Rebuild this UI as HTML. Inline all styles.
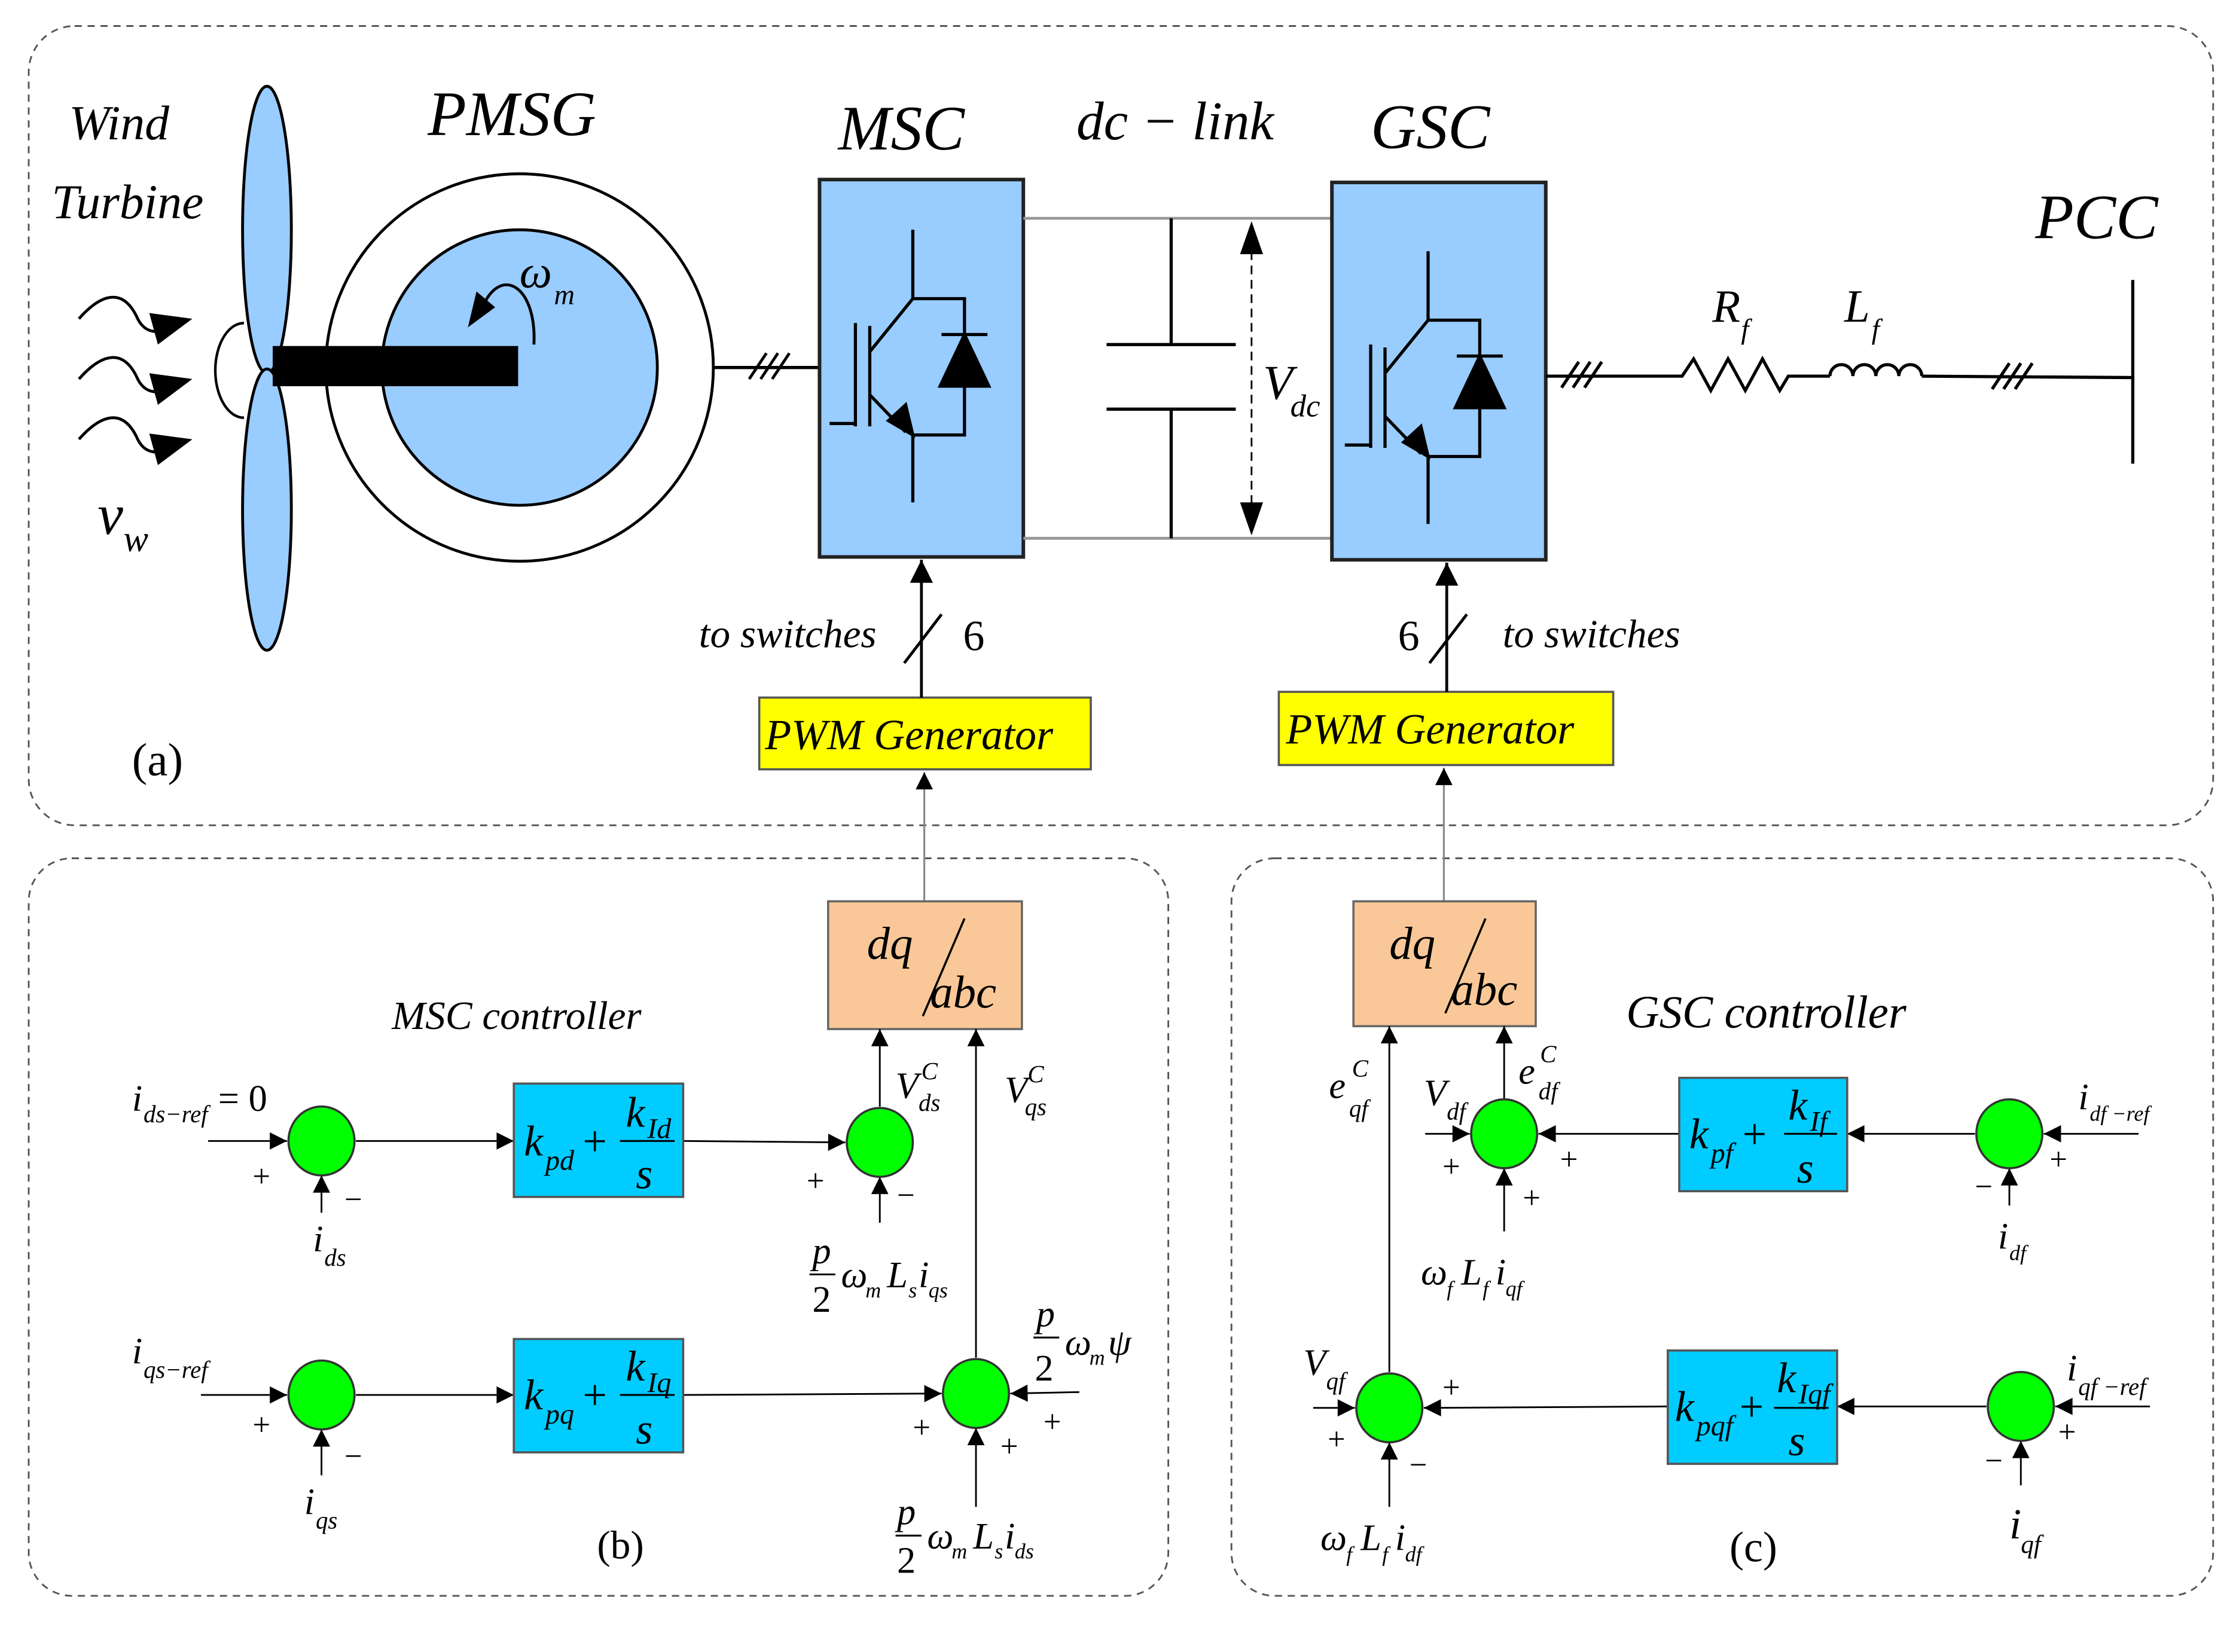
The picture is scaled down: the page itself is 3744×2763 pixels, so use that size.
<!DOCTYPE html>
<html><head><meta charset="utf-8"><style>
html,body{margin:0;padding:0;background:#fff}
svg{display:block}
text{font-family:"Liberation Serif",serif;font-style:italic;fill:#000}
.n{font-style:normal}
</style></head><body>
<svg width="3744" height="2763" viewBox="0 0 1560 1151" xmlns="http://www.w3.org/2000/svg">
<defs>
<marker id="ah" viewBox="0 0 10 10" refX="10" refY="5" markerWidth="14" markerHeight="12" markerUnits="userSpaceOnUse" orient="auto"><path d="M0,0 L10,5 L0,10 z" fill="#000"/></marker>
<marker id="ahb" viewBox="0 0 10 10" refX="10" refY="5" markerWidth="20" markerHeight="16" markerUnits="userSpaceOnUse" orient="auto"><path d="M0,0 L10,5 L0,10 z" fill="#000"/></marker>
<g id="igbt" stroke="#000" stroke-width="2.2" fill="none">
<line x1="65" y1="35" x2="65" y2="83"/>
<polyline points="65,83 101,83 101,178 65,178"/>
<line x1="65" y1="178" x2="65" y2="225"/>
<line x1="35" y1="102" x2="35" y2="172"/>
<line x1="25" y1="100" x2="25" y2="172"/>
<line x1="7" y1="170" x2="25" y2="170"/>
<line x1="35" y1="120" x2="65" y2="83"/>
<line x1="35" y1="150" x2="60" y2="176"/>
<path d="M65,178 L48,168 L60,157 z" fill="#000"/>
<line x1="85" y1="108" x2="117" y2="108"/>
<path d="M101,108 L84,144 L118,144 z" fill="#000"/>
</g>
</defs>
<g fill="none" stroke="#555" stroke-width="1.2" stroke-dasharray="5,4">
<rect x="20" y="18" width="1522" height="557" rx="32"/>
<rect x="20" y="598" width="794" height="514" rx="30"/>
<rect x="858" y="598" width="684" height="514" rx="30"/>
</g>
<!-- (a) -->
<text x="48" y="97" font-size="34">Wind</text>
<text x="36" y="152" font-size="34">Turbine</text>
<text x="68" y="372" font-size="40">v</text><text x="86" y="384" font-size="26">w</text>
<text x="92" y="540" font-size="32" class="n">(a)</text>
<g stroke="#000" stroke-width="2" fill="none">
<path d="M55,222 C70,205 85,200 95,220 C100,232 108,232 118,230"/>
<path d="M55,264 C70,247 85,242 95,262 C100,274 108,274 118,272"/>
<path d="M55,306 C70,289 85,284 95,304 C100,316 108,316 118,314"/>
</g>
<path d="M104,218 L134,222 L110,240 z M104,260 L134,264 L110,282 z M104,302 L134,306 L110,324 z" fill="#000"/>
<path d="M170,225 A20,33 0 0 0 170,291" fill="none" stroke="#000" stroke-width="1.8"/>
<ellipse cx="186" cy="160" rx="17" ry="100" fill="#99ccff" stroke="#000" stroke-width="2"/>
<ellipse cx="186" cy="355" rx="17" ry="98" fill="#99ccff" stroke="#000" stroke-width="2"/>
<circle cx="362" cy="256" r="135" fill="#fff" stroke="#000" stroke-width="2"/>
<circle cx="362" cy="256" r="96" fill="#99ccff" stroke="#000" stroke-width="2"/>
<rect x="190" y="241" width="171" height="28" fill="#000"/>
<path d="M372,240 C374,200 350,185 337,212" fill="none" stroke="#000" stroke-width="2"/>
<path d="M326,228 L332,203 L345,214 z" fill="#000"/>
<text x="362" y="200" font-size="32">ω</text><text x="386" y="212" font-size="20">m</text>
<text x="298" y="94" font-size="44">PMSG</text>
<line x1="497" y1="256" x2="571" y2="256" stroke="#000" stroke-width="2.2"/>
<g stroke="#000" stroke-width="2"><line x1="522" y1="264" x2="534" y2="246"/><line x1="530" y1="264" x2="542" y2="246"/><line x1="538" y1="264" x2="550" y2="246"/></g>
<text x="584" y="104" font-size="44">MSC</text>
<rect x="571" y="125" width="142" height="263" fill="#99ccff" stroke="#222" stroke-width="2.5"/>
<use href="#igbt" x="571" y="125"/>
<text x="750" y="97" font-size="38">dc − link</text>
<g stroke="#999" stroke-width="2"><line x1="713" y1="152" x2="928" y2="152"/><line x1="713" y1="375" x2="928" y2="375"/></g>
<g stroke="#000" stroke-width="2.2"><line x1="816" y1="152" x2="816" y2="240"/><line x1="771" y1="240" x2="861" y2="240"/><line x1="771" y1="285" x2="861" y2="285"/><line x1="816" y1="285" x2="816" y2="375"/></g>
<line x1="872" y1="175" x2="872" y2="352" stroke="#000" stroke-width="1.2" stroke-dasharray="6,4"/>
<path d="M872,154 L864,177 L880,177 z M872,373 L864,350 L880,350 z" fill="#000"/>
<text x="880" y="278" font-size="34">V</text><text x="899" y="290" font-size="22">dc</text>
<text x="955" y="103" font-size="44">GSC</text>
<rect x="928" y="127" width="149" height="263" fill="#99ccff" stroke="#222" stroke-width="2.5"/>
<use href="#igbt" x="930" y="140"/>
<g stroke="#000" stroke-width="2.2" fill="none">
<line x1="1077" y1="262" x2="1165" y2="262"/>
<polyline points="1165,262 1172,262 1180,250 1192,272 1204,250 1216,272 1228,250 1240,272 1246,262 1275,262"/>
<path d="M1275,262 a8,8 0 0 1 16,0 a8,8 0 0 1 16,0 a8,8 0 0 1 16,0 a8,8 0 0 1 16,0"/>
<line x1="1339" y1="262" x2="1485" y2="263"/>
<line x1="1486" y1="195" x2="1486" y2="323"/>
<line x1="1088" y1="270" x2="1100" y2="252"/><line x1="1096" y1="270" x2="1108" y2="252"/><line x1="1104" y1="270" x2="1116" y2="252"/>
<line x1="1388" y1="271" x2="1400" y2="253"/><line x1="1396" y1="271" x2="1408" y2="253"/><line x1="1404" y1="271" x2="1416" y2="253"/>
</g>
<text x="1193" y="224" font-size="32">R</text><text x="1213" y="236" font-size="20">f</text>
<text x="1285" y="224" font-size="32">L</text><text x="1304" y="236" font-size="20">f</text>
<text x="1418" y="166" font-size="44">PCC</text>
<!-- PWM -->
<rect x="529" y="486" width="231" height="50" fill="#ffff00" stroke="#555" stroke-width="1.5"/>
<text x="533" y="522" font-size="30">PWM  Generator</text>
<line x1="642" y1="486" x2="642" y2="390" stroke="#000" stroke-width="2" marker-end="url(#ahb)"/>
<line x1="630" y1="462" x2="656" y2="428" stroke="#000" stroke-width="2"/>
<text x="487" y="451" font-size="28">to  switches</text>
<text x="671" y="453" font-size="30" class="n">6</text>
<rect x="891" y="482" width="233" height="51" fill="#ffff00" stroke="#555" stroke-width="1.5"/>
<text x="896" y="518" font-size="30">PWM  Generator</text>
<line x1="1008" y1="482" x2="1008" y2="392" stroke="#000" stroke-width="2" marker-end="url(#ahb)"/>
<line x1="996" y1="462" x2="1022" y2="428" stroke="#000" stroke-width="2"/>
<text x="974" y="453" font-size="30" class="n">6</text>
<text x="1047" y="451" font-size="28">to  switches</text>
<!-- (b) -->
<line x1="644" y1="628" x2="644" y2="538" stroke="#888" stroke-width="1.3" marker-end="url(#ah)"/>
<line x1="1006" y1="628" x2="1006" y2="535" stroke="#888" stroke-width="1.3" marker-end="url(#ah)"/>
<rect x="577" y="628" width="135" height="89" fill="#fac898" stroke="#666" stroke-width="1.5"/>
<text x="604" y="668" font-size="32">dq</text><line x1="672" y1="640" x2="643" y2="708" stroke="#000" stroke-width="1.5"/><text x="648" y="702" font-size="32">abc</text>
<rect x="943" y="628" width="127" height="87" fill="#fac898" stroke="#666" stroke-width="1.5"/>
<text x="968" y="668" font-size="32">dq</text><line x1="1035" y1="640" x2="1007" y2="706" stroke="#000" stroke-width="1.5"/><text x="1011" y="700" font-size="32">abc</text>
<text x="273" y="717" font-size="28">MSC  controller</text>
<text x="1133" y="716" font-size="32">GSC  controller</text>
<g stroke="#000" stroke-width="1.2" fill="none">
<line x1="145" y1="795" x2="200" y2="795" marker-end="url(#ah)"/>
<line x1="224" y1="845" x2="224" y2="819" marker-end="url(#ah)"/>
<line x1="248" y1="795" x2="358" y2="795" marker-end="url(#ah)"/>
<line x1="476" y1="795" x2="589" y2="796" marker-end="url(#ah)"/>
<line x1="613" y1="852" x2="613" y2="820" marker-end="url(#ah)"/>
<line x1="613" y1="771" x2="613" y2="717" marker-end="url(#ah)"/>
<line x1="140" y1="972" x2="200" y2="972" marker-end="url(#ah)"/>
<line x1="224" y1="1028" x2="224" y2="996" marker-end="url(#ah)"/>
<line x1="248" y1="972" x2="358" y2="972" marker-end="url(#ah)"/>
<line x1="476" y1="972" x2="656" y2="971" marker-end="url(#ah)"/>
<line x1="752" y1="970" x2="704" y2="971" marker-end="url(#ah)"/>
<line x1="680" y1="1050" x2="680" y2="995" marker-end="url(#ah)"/>
<line x1="680" y1="946" x2="680" y2="717" marker-end="url(#ah)"/>
<!-- GSC -->
<line x1="1490" y1="790" x2="1424" y2="790" marker-end="url(#ah)"/>
<line x1="1400" y1="840" x2="1400" y2="814" marker-end="url(#ah)"/>
<line x1="1376" y1="790" x2="1287" y2="790" marker-end="url(#ah)"/>
<line x1="1170" y1="790" x2="1072" y2="790" marker-end="url(#ah)"/>
<line x1="993" y1="790" x2="1024" y2="790" marker-end="url(#ah)"/>
<line x1="1048" y1="858" x2="1048" y2="814" marker-end="url(#ah)"/>
<line x1="1048" y1="766" x2="1048" y2="715" marker-end="url(#ah)"/>
<line x1="1498" y1="980" x2="1432" y2="980" marker-end="url(#ah)"/>
<line x1="1408" y1="1035" x2="1408" y2="1004" marker-end="url(#ah)"/>
<line x1="1384" y1="980" x2="1280" y2="980" marker-end="url(#ah)"/>
<line x1="1162" y1="980" x2="992" y2="981" marker-end="url(#ah)"/>
<line x1="915" y1="981" x2="944" y2="981" marker-end="url(#ah)"/>
<line x1="968" y1="1050" x2="968" y2="1005" marker-end="url(#ah)"/>
<line x1="968" y1="956" x2="968" y2="715" marker-end="url(#ah)"/>
</g>
<g fill="#00ff00" stroke="#333" stroke-width="1.5">
<ellipse cx="224" cy="795" rx="23" ry="24"/><ellipse cx="613" cy="796" rx="23" ry="24"/>
<ellipse cx="224" cy="972" rx="23" ry="24"/><ellipse cx="680" cy="971" rx="23" ry="24"/>
<ellipse cx="1048" cy="790" rx="23" ry="24"/><ellipse cx="1400" cy="790" rx="23" ry="24"/>
<ellipse cx="968" cy="981" rx="23" ry="24"/><ellipse cx="1408" cy="980" rx="23" ry="24"/>
</g>
<g fill="#00ccff" stroke="#555" stroke-width="1.5">
<rect x="358" y="755" width="118" height="79"/><rect x="358" y="933" width="118" height="79"/>
<rect x="1170" y="751" width="117" height="79"/><rect x="1162" y="941" width="118" height="79"/>
</g>
<g stroke="#000" stroke-width="1.3">
<line x1="432" y1="795" x2="470" y2="795"/><line x1="432" y1="972" x2="470" y2="972"/>
<line x1="1243" y1="790" x2="1280" y2="790"/><line x1="1236" y1="981" x2="1274" y2="981"/>
</g>
<g font-size="30">
<text x="365" y="805">k</text><text x="380" y="815" font-size="20">pd</text><text x="406" y="805" class="n">+</text><text x="436" y="785">k</text><text x="451" y="793" font-size="20">Id</text><text x="443" y="828">s</text>
<text x="365" y="982">k</text><text x="380" y="992" font-size="20">pq</text><text x="406" y="982" class="n">+</text><text x="436" y="962">k</text><text x="451" y="970" font-size="20">Iq</text><text x="443" y="1006">s</text>
<text x="1177" y="800">k</text><text x="1192" y="810" font-size="20">pf</text><text x="1214" y="800" class="n">+</text><text x="1246" y="780">k</text><text x="1261" y="788" font-size="20">If</text><text x="1252" y="824">s</text>
<text x="1167" y="990">k</text><text x="1182" y="1000" font-size="20">pqf</text><text x="1212" y="990" class="n">+</text><text x="1238" y="970">k</text><text x="1253" y="978" font-size="20">Iqf</text><text x="1246" y="1014">s</text>
</g>
<g font-size="22" class="n">
<text x="176" y="827" class="n">+</text><text x="240" y="843" class="n">−</text>
<text x="176" y="1000" class="n">+</text><text x="240" y="1022" class="n">−</text>
<text x="562" y="830" class="n">+</text><text x="625" y="840" class="n">−</text>
<text x="636" y="1002" class="n">+</text><text x="697" y="1015" class="n">+</text><text x="727" y="998" class="n">+</text>
<text x="1005" y="820" class="n">+</text><text x="1087" y="815" class="n">+</text><text x="1061" y="842" class="n">+</text>
<text x="1376" y="834" class="n">−</text><text x="1428" y="815" class="n">+</text>
<text x="1005" y="974" class="n">+</text><text x="925" y="1010" class="n">+</text><text x="982" y="1028" class="n">−</text>
<text x="1383" y="1025" class="n">−</text><text x="1434" y="1005" class="n">+</text>
</g>
<g font-size="26">
<text x="92" y="774">i</text><text x="100" y="782" font-size="17">ds−ref</text><text x="152" y="774" class="n">= 0</text>
<text x="218" y="872">i</text><text x="226" y="882" font-size="17">ds</text>
<text x="92" y="950">i</text><text x="100" y="960" font-size="17">qs−ref</text>
<text x="212" y="1055">i</text><text x="220" y="1065" font-size="17">qs</text>
<text x="624" y="765">V</text><text x="640" y="774" font-size="17">ds</text><text x="642" y="752" font-size="17">C</text>
<text x="700" y="768">V</text><text x="714" y="777" font-size="17">qs</text><text x="716" y="754" font-size="17">C</text>
<text x="566" y="880">p</text><line x1="564" y1="888" x2="582" y2="888" stroke="#000" stroke-width="1.3"/><text x="566" y="914" class="n">2</text><text x="586" y="897">ω</text><text x="603" y="904" font-size="15">m</text><text x="618" y="897">L</text><text x="633" y="904" font-size="15">s</text><text x="640" y="897">i</text><text x="647" y="904" font-size="15">qs</text>
<text x="722" y="924">p</text><line x1="720" y1="932" x2="738" y2="932" stroke="#000" stroke-width="1.3"/><text x="721" y="962" class="n">2</text><text x="742" y="944">ω</text><text x="759" y="951" font-size="15">m</text><text x="772" y="944">ψ</text>
<text x="625" y="1062">p</text><line x1="624" y1="1070" x2="642" y2="1070" stroke="#000" stroke-width="1.3"/><text x="625" y="1096" class="n">2</text><text x="646" y="1079">ω</text><text x="663" y="1086" font-size="15">m</text><text x="678" y="1079">L</text><text x="693" y="1086" font-size="15">s</text><text x="700" y="1079">i</text><text x="707" y="1086" font-size="15">ds</text>
<text x="416" y="1086" font-size="28" class="n">(b)</text>
<!-- GSC labels -->
<text x="926" y="765">e</text><text x="940" y="778" font-size="17">qf</text><text x="942" y="750" font-size="17">C</text>
<text x="1058" y="755">e</text><text x="1072" y="766" font-size="17">df</text><text x="1073" y="740" font-size="17">C</text>
<text x="992" y="770">V</text><text x="1008" y="780" font-size="17">df</text>
<text x="990" y="895">ω</text><text x="1008" y="903" font-size="15">f</text><text x="1018" y="895">L</text><text x="1033" y="903" font-size="15">f</text><text x="1042" y="895">i</text><text x="1049" y="903" font-size="15">qf</text>
<text x="1392" y="870">i</text><text x="1400" y="878" font-size="15">df</text>
<text x="1448" y="773">i</text><text x="1456" y="781" font-size="15">df −ref</text>
<text x="1440" y="962">i</text><text x="1448" y="972" font-size="17">qf −ref</text>
<text x="908" y="958">V</text><text x="924" y="968" font-size="17">qf</text>
<text x="920" y="1080">ω</text><text x="938" y="1088" font-size="15">f</text><text x="948" y="1080">L</text><text x="963" y="1088" font-size="15">f</text><text x="972" y="1080">i</text><text x="979" y="1088" font-size="15">df</text>
<text x="1400" y="1072" font-size="30">i</text><text x="1408" y="1082" font-size="18">qf</text>
<text x="1205" y="1088" font-size="30" class="n">(c)</text>
</g>
</svg>
</body></html>
